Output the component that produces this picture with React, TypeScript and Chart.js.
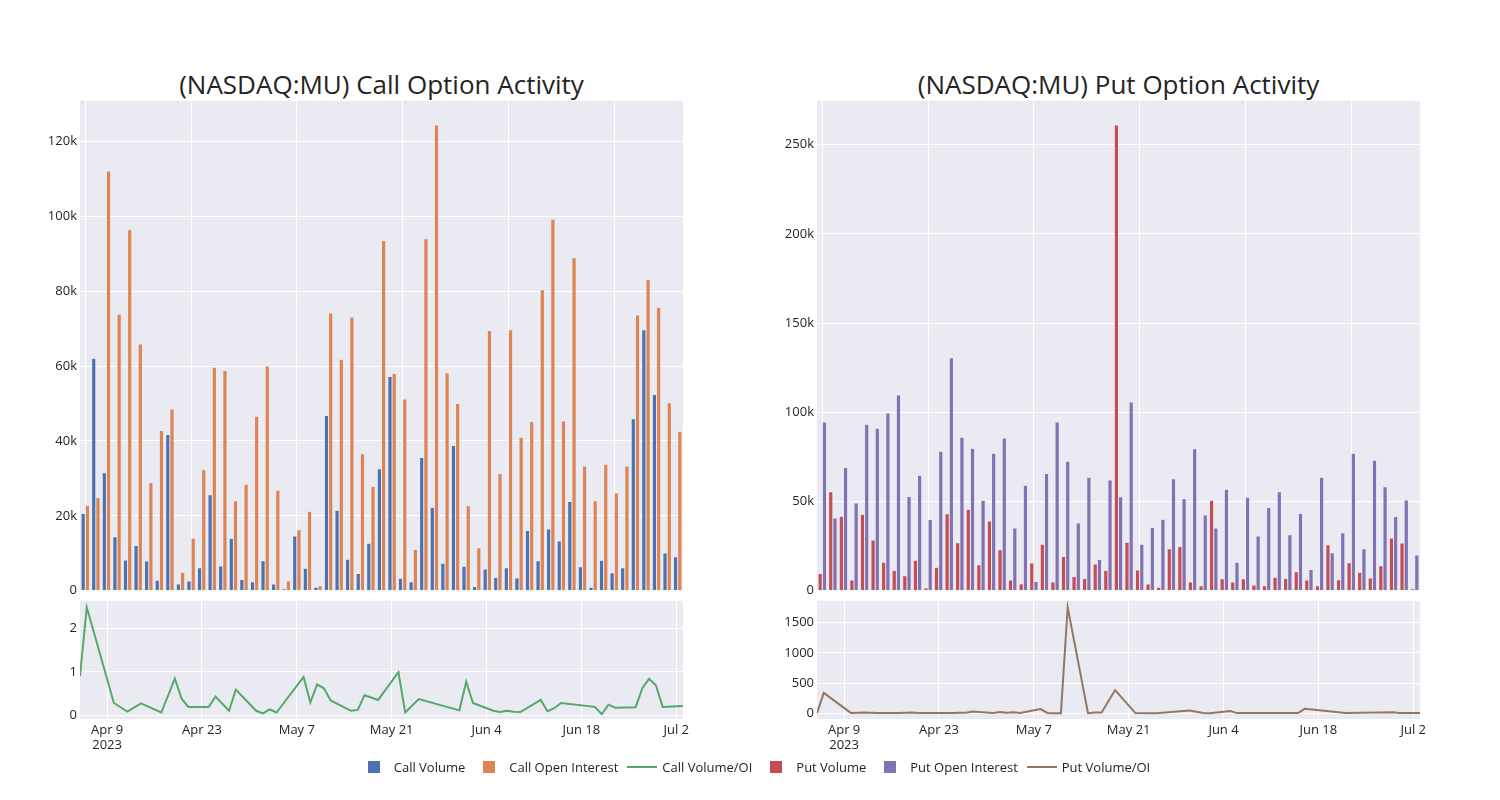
import React, { useEffect, useRef } from 'react';
import { Chart, registerables } from 'chart.js';

Chart.register(...registerables);

// ---------- data ----------
const callVolume = [20600, 62100, 31500, 14400, 8200, 12100, 7900, 2800, 41700, 1800, 2600, 6100, 25600, 6600, 14000, 3000, 2400, 8000, 1800, 500, 14600, 6000, 900, 46800, 21500, 8400, 4600, 12700, 32600, 57200, 3300, 2400, 35600, 22300, 7300, 38800, 6500, 1100, 5800, 3500, 6100, 3400, 16100, 8000, 16500, 13300, 23800, 6400, 900, 8100, 4800, 6100, 45900, 69700, 52400, 10100, 9100];
const callOpenInterest = [22800, 24900, 112100, 73800, 96400, 65900, 28900, 42800, 48500, 4900, 14000, 32300, 59700, 58800, 24000, 28400, 46600, 60000, 26800, 2600, 16300, 21200, 1300, 74200, 61800, 73100, 36600, 27900, 93500, 58000, 51200, 11000, 94000, 124400, 58200, 50000, 22700, 11500, 69500, 31300, 69700, 41000, 45200, 80400, 99200, 45300, 88900, 33300, 24000, 33800, 26100, 33300, 73600, 83100, 75700, 50200, 42600];
const putVolume = [9700, 55400, 41800, 6000, 42900, 28400, 15900, 11400, 8400, 17000, 1500, 13100, 43100, 26900, 45700, 14600, 39000, 22900, 6000, 3900, 15500, 26100, 4900, 19200, 8000, 6900, 14900, 11400, 261000, 27200, 11600, 3700, 1900, 23500, 24800, 4900, 2800, 50700, 6700, 4900, 6700, 3200, 2800, 7600, 6900, 10600, 6000, 2800, 25700, 6200, 15700, 10300, 7100, 14000, 29500, 26700, 1100];
const putOpenInterest = [94600, 40700, 69000, 49100, 93300, 91000, 99600, 109700, 52800, 64700, 39900, 78200, 130600, 86000, 79900, 50700, 77100, 85600, 35100, 59100, 5200, 65700, 94600, 72600, 37900, 63600, 17500, 62100, 52600, 105800, 26100, 35400, 40100, 62700, 51500, 79500, 42500, 35100, 56900, 15900, 52400, 30600, 46600, 55400, 31300, 43300, 11900, 63600, 21300, 32500, 77100, 23500, 73100, 58200, 41600, 50900, 20000];

const callRatioDates = ['2023-04-05', '2023-04-06', '2023-04-10', '2023-04-12', '2023-04-14', '2023-04-17', '2023-04-19', '2023-04-20', '2023-04-21', '2023-04-24', '2023-04-25', '2023-04-27', '2023-04-28', '2023-05-01', '2023-05-02', '2023-05-03', '2023-05-04', '2023-05-08', '2023-05-09', '2023-05-10', '2023-05-11', '2023-05-12', '2023-05-15', '2023-05-16', '2023-05-17', '2023-05-19', '2023-05-22', '2023-05-23', '2023-05-25', '2023-05-31', '2023-06-01', '2023-06-02', '2023-06-05', '2023-06-06', '2023-06-07', '2023-06-08', '2023-06-09', '2023-06-12', '2023-06-13', '2023-06-14', '2023-06-15', '2023-06-20', '2023-06-21', '2023-06-22', '2023-06-23', '2023-06-26', '2023-06-27', '2023-06-28', '2023-06-29', '2023-06-30', '2023-07-03'];
const callRatio = [0.90, 2.49, 0.28, 0.08, 0.27, 0.06, 0.84, 0.38, 0.19, 0.19, 0.43, 0.10, 0.59, 0.10, 0.04, 0.13, 0.06, 0.88, 0.29, 0.71, 0.62, 0.34, 0.10, 0.12, 0.46, 0.35, 0.99, 0.06, 0.37, 0.11, 0.77, 0.28, 0.10, 0.07, 0.10, 0.08, 0.07, 0.35, 0.09, 0.16, 0.28, 0.19, 0.02, 0.24, 0.17, 0.18, 0.62, 0.84, 0.69, 0.19, 0.21];

const putRatioDates = ['2023-04-05', '2023-04-06', '2023-04-10', '2023-04-12', '2023-04-14', '2023-04-17', '2023-04-19', '2023-04-20', '2023-04-21', '2023-04-24', '2023-04-25', '2023-04-26', '2023-04-27', '2023-04-28', '2023-05-01', '2023-05-02', '2023-05-03', '2023-05-04', '2023-05-05', '2023-05-08', '2023-05-09', '2023-05-10', '2023-05-11', '2023-05-12', '2023-05-15', '2023-05-16', '2023-05-17', '2023-05-19', '2023-05-22', '2023-05-25', '2023-05-30', '2023-06-01', '2023-06-02', '2023-06-05', '2023-06-06', '2023-06-15', '2023-06-16', '2023-06-22', '2023-06-29', '2023-06-30', '2023-07-03'];
const putRatio = [0, 335, 5, 12, 5, 2, 12, 4, 2, 2, 2, 8, 6, 27, 5, 20, 6, 15, 2, 69, 5, 0, 0, 1755, 0, 10, 10, 383, 2, 0, 43, 4, 0, 37, 2, 2, 75, 2, 15, 2, 2];

// axis ticks
const callBarTicks = [0, 20000, 40000, 60000, 80000, 100000, 120000];
const putBarTicks = [0, 50000, 100000, 150000, 200000, 250000];
const callRatioTicks = [0, 1, 2];
const putRatioTicks = [0, 500, 1000, 1500];
const axisStartDate = '2023-04-05';
const axisEndDate = '2023-07-03';
const dateTicks = ['2023-04-09', '2023-04-23', '2023-05-07', '2023-05-21', '2023-06-04', '2023-06-18', '2023-07-02'];
const dateTickLabels = ['Apr 9', 'Apr 23', 'May 7', 'May 21', 'Jun 4', 'Jun 18', 'Jul 2'];
const firstTickYear = '2023';

const legendItems = [
  { label: 'Call Volume', kind: 'bar', color: 'rgb(76,114,176)' },
  { label: 'Call Open Interest', kind: 'bar', color: 'rgb(221,132,82)' },
  { label: 'Call Volume/OI', kind: 'line', color: 'rgb(85,168,104)' },
  { label: 'Put Volume', kind: 'bar', color: 'rgb(196,78,82)' },
  { label: 'Put Open Interest', kind: 'bar', color: 'rgb(129,114,179)' },
  { label: 'Put Volume/OI', kind: 'line', color: 'rgb(147,120,96)' },
];

// ---------- helpers ----------
const TEXT = 'rgb(36,36,36)';
const FONT = "'Open Sans', 'Noto Sans', sans-serif";
Chart.defaults.font.family = FONT;
Chart.defaults.font.size = 13;
Chart.defaults.color = TEXT;

const DAY0 = Date.UTC(2023, 3, 9);
const dayNum = (iso: string) => {
  const [y, m, d] = iso.split('-').map(Number);
  return Math.round((Date.UTC(y, m - 1, d) - DAY0) / 86400000);
};

const plotBg = {
  id: 'plotBg',
  beforeDraw(chart: any) {
    const { ctx, chartArea: a } = chart;
    ctx.save();
    ctx.fillStyle = 'rgb(234,234,242)';
    ctx.fillRect(a.left, a.top, a.right - a.left, a.bottom - a.top);
    ctx.restore();
  },
};

const kFmt = (v: number) => (v === 0 ? '0' : `${Math.round(v / 1000)}k`);
const setTicks = (values: number[]) => (s: any) => { s.ticks = values.map((v) => ({ value: v })); };

function barConfig(a: number[], b: number[], ca: string, cb: string, na: string, nb: string, yMax: number, yTicks: number[]) {
  const slots = a.map((_, i) => String(i + 1));
  return {
    type: 'bar',
    data: {
      labels: slots,
      datasets: [
        { label: na, data: a, backgroundColor: ca, borderColor: 'rgb(234,234,242)', borderWidth: 0.5, categoryPercentage: 0.8, barPercentage: 1 },
        { label: nb, data: b, backgroundColor: cb, borderColor: 'rgb(234,234,242)', borderWidth: 0.5, categoryPercentage: 0.8, barPercentage: 1 },
      ],
    },
    options: {
      responsive: false,
      animation: false,
      layout: { padding: { left: 0, right: 17, top: 10, bottom: 14.3 } },
      plugins: { legend: { display: false }, tooltip: { enabled: false } },
      scales: {
        x: {
          type: 'category',
          offset: true,
          grid: { offset: false, drawTicks: false, color: (c: any) => (c.index % 10 === 0 ? '#ffffff' : 'rgba(0,0,0,0)'), lineWidth: 1 },
          border: { display: false },
          ticks: { display: false, autoSkip: false },
          afterFit: (s: any) => { s.height = 0; },
        },
        y: {
          min: 0,
          max: yMax,
          afterBuildTicks: setTicks(yTicks),
          ticks: { padding: 3, callback: (v: any) => kFmt(Number(v)) },
          grid: { color: '#ffffff', drawTicks: false, lineWidth: 1 },
          border: { display: false },
          afterFit: (s: any) => { s.width = 80; },
        },
      },
    },
    plugins: [plotBg],
  };
}

function lineConfig(dates: string[], vals: number[], color: string, name: string, yMin: number, yMax: number, yTicks: number[]) {
  const xTickDays = dateTicks.map(dayNum);
  return {
    type: 'line',
    data: {
      datasets: [
        { label: name, data: dates.map((d, i) => ({ x: dayNum(d), y: vals[i] })), borderColor: color, backgroundColor: color, borderWidth: 2, pointRadius: 0, tension: 0, fill: false },
      ],
    },
    options: {
      responsive: false,
      animation: false,
      layout: { padding: { left: 0, right: 17, top: 7, bottom: 0 } },
      plugins: { legend: { display: false }, tooltip: { enabled: false } },
      scales: {
        x: {
          type: 'linear',
          min: dayNum(axisStartDate),
          max: dayNum(axisEndDate),
          afterBuildTicks: setTicks(xTickDays),
          ticks: {
            autoSkip: false,
            maxRotation: 0,
            padding: 3,
            callback: (v: any) => {
              const i = xTickDays.indexOf(Number(v));
              const lbl = dateTickLabels[i] ?? '';
              return i === 0 ? [lbl, firstTickYear] : lbl;
            },
          },
          grid: { color: '#ffffff', drawTicks: false, lineWidth: 1 },
          border: { display: false },
          afterFit: (s: any) => { s.height = 46; },
        },
        y: {
          min: yMin,
          max: yMax,
          afterBuildTicks: setTicks(yTicks),
          ticks: { padding: 3, callback: (v: any) => String(v) },
          grid: { color: '#ffffff', drawTicks: false, lineWidth: 1 },
          border: { display: false },
          afterFit: (s: any) => { s.width = 80; },
        },
      },
    },
    plugins: [plotBg],
  };
}

function ChartBox({ config, left, top, width, height }: any) {
  const ref = useRef<HTMLCanvasElement>(null);
  useEffect(() => {
    const chart = new Chart(ref.current as HTMLCanvasElement, config as any);
    return () => chart.destroy();
  }, []);
  return (
    <canvas ref={ref} width={width} height={height} style={{ position: 'absolute', left, top, width, height }} />
  );
}

function Title({ text, cx }: { text: string; cx: number }) {
  return (
    <div style={{ position: 'absolute', left: cx - 300, width: 600, top: 68, height: 32, lineHeight: '32px', textAlign: 'center', fontFamily: FONT, fontSize: 26, color: TEXT, whiteSpace: 'nowrap' }}>
      {text}
    </div>
  );
}

function Legend() {
  return (
    <div style={{ position: 'absolute', left: 0, top: 758, width: 1508, height: 18, display: 'flex', justifyContent: 'center', alignItems: 'center', fontFamily: FONT, fontSize: 13, color: TEXT }}>
      {legendItems.map((it) => (
        <div key={it.label} style={{ display: 'flex', alignItems: 'center', marginRight: 4 }}>
          <div style={{ position: 'relative', width: 40, height: 18 }}>
            {it.kind === 'bar' ? (
              <div style={{ position: 'absolute', left: 14, top: 3, width: 12, height: 12, background: it.color }} />
            ) : (
              <div style={{ position: 'absolute', left: 5, top: 8, width: 30, height: 2, background: it.color }} />
            )}
          </div>
          <span style={{ whiteSpace: 'nowrap' }}>{it.label}</span>
        </div>
      ))}
    </div>
  );
}

export default function App() {
  return (
    <div style={{ position: 'fixed', left: 0, top: 0, width: 1500, height: 800, background: '#ffffff', overflow: 'hidden' }}>
      <Title text="(NASDAQ:MU) Call Option Activity" cx={381.5} />
      <Title text="(NASDAQ:MU) Put Option Activity" cx={1118.5} />
      <ChartBox
        config={barConfig(callVolume, callOpenInterest, 'rgb(76,114,176)', 'rgb(221,132,82)', 'Call Volume', 'Call Open Interest', 130840, callBarTicks)}
        left={0} top={90} width={700} height={515}
      />
      <ChartBox
        config={lineConfig(callRatioDates, callRatio, 'rgb(85,168,104)', 'Call Volume/OI', -0.09, 2.64, callRatioTicks)}
        left={0} top={590} width={700} height={175.3}
      />
      <ChartBox
        config={barConfig(putVolume, putOpenInterest, 'rgb(196,78,82)', 'rgb(129,114,179)', 'Put Volume', 'Put Open Interest', 274600, putBarTicks)}
        left={737} top={90} width={700} height={515}
      />
      <ChartBox
        config={lineConfig(putRatioDates, putRatio, 'rgb(147,120,96)', 'Put Volume/OI', -96, 1862, putRatioTicks)}
        left={737} top={590} width={700} height={175.3}
      />
      <Legend />
    </div>
  );
}
